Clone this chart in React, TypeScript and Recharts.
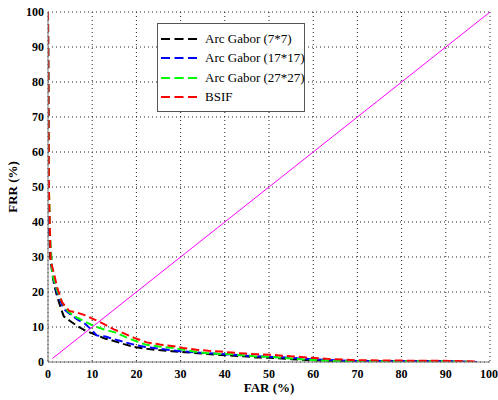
import { LineChart, Line, XAxis, YAxis, CartesianGrid, Legend } from 'recharts';

// FAR / FRR points (percent)
const arc7Far = [0, 0.2, 0.5, 1, 1.4, 2, 2.5, 3, 3.6, 5, 6.6, 8.5, 10.4, 12.7, 14.9, 17.2, 19.5, 22, 25, 28, 31, 34, 36, 39, 42, 45, 47, 50, 53, 55, 58, 61, 64, 67, 70, 80, 90, 97];
const arc7Frr = [100, 40, 30, 25, 22, 19, 17, 15, 13, 11.7, 10.3, 8.9, 8, 6.8, 6, 5.1, 4.3, 3.8, 3.4, 3.1, 2.8, 2.5, 2.3, 2, 1.8, 1.6, 1.3, 1.2, 1, 0.8, 0.6, 0.4, 0.3, 0.25, 0.2, 0.2, 0.2, 0];

const arc17Far = [0, 0.2, 0.5, 1, 1.4, 2, 2.5, 3.6, 5.1, 6.6, 8.5, 10, 11, 13, 15, 17.5, 20, 22, 25, 30, 35, 40, 45, 50, 55, 60, 65, 70, 80, 90, 97];
const arc17Frr = [100, 45, 33, 26, 23, 20, 18.4, 15.1, 13.6, 12.2, 10.8, 9, 7.6, 7.3, 6.5, 5.6, 4.8, 4.3, 3.8, 3.1, 2.6, 2.2, 1.8, 1.5, 1.2, 0.8, 0.5, 0.3, 0.2, 0.2, 0];

const arc27Far = [0, 0.2, 0.5, 1, 2.1, 3.2, 4.4, 5.9, 8.1, 10.4, 12.7, 15.3, 17.6, 19.8, 22, 25, 28, 31, 34, 36, 39, 42, 45, 47, 50, 53, 55, 58, 61, 64, 67, 70, 80, 90, 97];
const arc27Frr = [100, 50, 35, 25, 20.3, 17, 14.6, 13.1, 11.7, 10.3, 9.3, 8.4, 7.1, 6, 5, 4.4, 4.1, 3.4, 2.8, 2.5, 2.3, 2.2, 1.8, 1.6, 1.5, 1.2, 1, 0.7, 0.5, 0.3, 0.25, 0.2, 0.2, 0.2, 0];

const bsifFar = [0, 0.2, 0.6, 1.4, 2.1, 3.2, 4.8, 6.6, 8.5, 10.4, 12.7, 14.9, 16.8, 19.5, 22.3, 25.3, 28, 30.6, 33.6, 36.3, 39, 41.5, 44.6, 47.2, 50.2, 52.9, 55.5, 58.5, 61.2, 64.2, 66.8, 69.5, 80, 92, 97];
const bsifFrr = [100, 50, 29, 25, 21.2, 17, 14.6, 14.1, 13.3, 12.2, 10.8, 9.3, 8.4, 6.9, 5.6, 5, 4.6, 4, 3.5, 3.2, 3, 2.7, 2.4, 2.2, 2.1, 1.8, 1.6, 1.3, 1.1, 0.8, 0.7, 0.5, 0.4, 0.3, 0.1];

// equal error rate reference line
const eerFar = [1, 100];
const eerFrr = [1, 100];

const seriesNames = ['Arc Gabor (7*7)', 'Arc Gabor (17*17)', 'Arc Gabor (27*27)', 'BSIF'];
const ticks = [0, 10, 20, 30, 40, 50, 60, 70, 80, 90, 100];

const toPoints = (far: number[], frr: number[]) => far.map((f, i) => ({ far: f, frr: frr[i] }));

const FONT = '"Liberation Serif", "Times New Roman", serif';

const renderLegend = ({ payload }: any) => {
  const items = seriesNames
    .map((n) => (payload || []).find((p: any) => p.value === n))
    .filter(Boolean);
  return (
    <div style={{ background: '#fff', border: '1px solid #555', padding: '5px 4px 4px 3px', width: 139, fontFamily: FONT, fontSize: 13, color: '#000', whiteSpace: 'nowrap' }}>
      {items.map((entry: any, i: number) => (
        <div key={i} style={{ display: 'flex', alignItems: 'center', height: 19.5 }}>
          <svg width={42} height={10} style={{ marginRight: 2, flex: 'none' }}>
            <line x1={0} y1={5} x2={40} y2={5} stroke={entry.color} strokeWidth={2} strokeDasharray="9 4.5" />
          </svg>
          <span>{entry.value}</span>
        </div>
      ))}
    </div>
  );
};

export default function App() {
  const axisTick = { fill: '#000', fontSize: 12, fontWeight: 'bold', style: { fontFamily: FONT } };
  return (
    <div style={{ position: 'absolute', left: 0, top: 0, width: 498, height: 400, background: '#fff', fontFamily: FONT }}>
      <LineChart width={498} height={400} margin={{ top: 12, right: 8, left: 0, bottom: 0 }}>
        <CartesianGrid stroke="#222" strokeDasharray="1 3" horizontalValues={ticks} verticalValues={ticks} />
        <XAxis
          type="number"
          dataKey="far"
          domain={[0, 100]}
          ticks={ticks}
          allowDataOverflow
          height={38}
          stroke="#777"
          tickLine={false}
          tickSize={5}
          tickMargin={2}
          tick={axisTick}
          label={{
            content: ({ viewBox }: any) => (
              <text x={viewBox.x + viewBox.width / 2} y={392} textAnchor="middle" style={{ fontFamily: FONT }} fontSize={13} fontWeight="bold" fill="#000">FAR (%)</text>
            ),
          }}
        />
        <YAxis
          type="number"
          dataKey="frr"
          domain={[0, 100]}
          ticks={ticks}
          allowDataOverflow
          width={48}
          stroke="#777"
          tickLine={false}
          tickSize={2}
          tickMargin={2}
          tick={axisTick}
          label={{
            content: ({ viewBox }: any) => {
              const cy = viewBox.y + viewBox.height / 2;
              return (
                <text x={12} y={cy} transform={`rotate(-90 12 ${cy})`} textAnchor="middle" dominantBaseline="central" style={{ fontFamily: FONT }} fontSize={13} fontWeight="bold" fill="#000">FRR (%)</text>
              );
            },
          }}
        />
        <Legend
          layout="vertical"
          align="center"
          verticalAlign="middle"
          content={renderLegend}
          wrapperStyle={{ left: 157, top: 23, width: 148 }}
        />
        <Line data={toPoints(arc7Far, arc7Frr)} dataKey="frr" name={seriesNames[0]} type="linear" stroke="#000000" strokeWidth={2} strokeDasharray="8 4" dot={false} isAnimationActive={false} />
        <Line data={toPoints(arc17Far, arc17Frr)} dataKey="frr" name={seriesNames[1]} type="linear" stroke="#0000ff" strokeWidth={2} strokeDasharray="8 4" dot={false} isAnimationActive={false} />
        <Line data={toPoints(arc27Far, arc27Frr)} dataKey="frr" name={seriesNames[2]} type="linear" stroke="#00ff00" strokeWidth={2} strokeDasharray="8 4" dot={false} isAnimationActive={false} />
        <Line data={toPoints(bsifFar, bsifFrr)} dataKey="frr" name={seriesNames[3]} type="linear" stroke="#ff0000" strokeWidth={2} strokeDasharray="8 4" dot={false} isAnimationActive={false} />
        <Line data={toPoints(eerFar, eerFrr)} dataKey="frr" name="EER" legendType="none" type="linear" stroke="#ff00ff" strokeWidth={1} dot={false} isAnimationActive={false} />
      </LineChart>
    </div>
  );
}
